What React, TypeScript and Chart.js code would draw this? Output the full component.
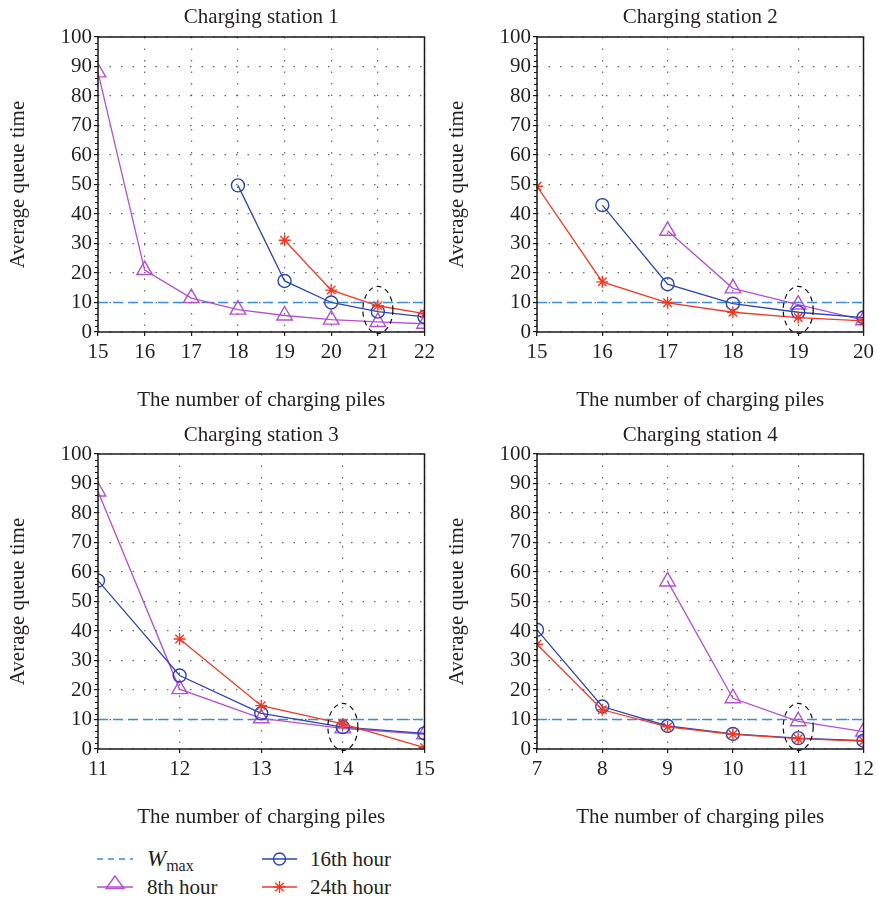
import React, { useEffect, useRef } from 'react';
import { Chart, registerables } from 'chart.js';

Chart.register(...registerables);

// ---------- data ----------
const W_MAX = 10;
const Y_MIN = 0;
const Y_MAX = 100;
const Y_STEP = 10;
const Y_MINOR_STEP = 2;
const HIGHLIGHT_CENTER = 7.5;

const station1Piles = [15, 16, 17, 18, 19, 20, 21, 22];
const station1Hour8 = [88, 21, 11.5, 7.6, 5.6, 4.2, 3.4, 2.8];
const station1Hour16 = [null, null, null, 49.7, 17.3, 10, 6.9, 5.1];
const station1Hour24 = [null, null, null, null, 31.1, 14.2, 8.9, 6.2];
const station1Chosen = 21;

const station2Piles = [15, 16, 17, 18, 19, 20];
const station2Hour8 = [null, null, 34.3, 14.8, 9.3, 4];
const station2Hour16 = [null, 43, 16.2, 9.6, 6.7, 4.9];
const station2Hour24 = [49.4, 17, 9.9, 6.7, 4.9, 3.8];
const station2Chosen = 19;

const station3Piles = [11, 12, 13, 14, 15];
const station3Hour8 = [87.3, 20.3, 10.4, 7, 5];
const station3Hour16 = [57.1, 24.9, 12.1, 7.4, 5.3];
const station3Hour24 = [null, 37.3, 14.7, 8.5, 0.5];
const station3Chosen = 14;

const station4Piles = [7, 8, 9, 10, 11, 12];
const station4Hour8 = [null, null, 56.8, 17.2, 9.4, 5.9];
const station4Hour16 = [40.4, 14.4, 7.8, 5.1, 3.7, 2.8];
const station4Hour24 = [35.5, 13.3, 7.5, 5, 3.5, 2.7];
const station4Chosen = 11;

const stationTitles = ['Charging station 1', 'Charging station 2', 'Charging station 3', 'Charging station 4'];
const xAxisTitle = 'The number of charging piles';
const yAxisTitle = 'Average queue time';

const labelWmax = 'W';
const labelWmaxSub = 'max';
const label8 = '8th hour';
const label16 = '16th hour';
const label24 = '24th hour';

// ---------- styles ----------
const FONT = "'Liberation Serif', 'Times New Roman', serif";
const TEXT = '#231f20';
const C_WMAX = '#3a8fd9';
const C_8 = '#b550cf';
const C_16 = '#2b46ad';
const C_24 = '#ef3a26';

function toPoints(xs: number[], ys: (number | null)[]) {
  return xs
    .map((x, i) => ({ x, y: ys[i] }))
    .filter((p) => p.y !== null && p.y !== undefined);
}

const frameAndMinorTicks = {
  id: 'frameAndMinorTicks',
  afterDraw(chart: any) {
    const { ctx, chartArea, scales } = chart;
    const { left, top, right, bottom } = chartArea;
    ctx.save();
    ctx.setLineDash([]);
    ctx.strokeStyle = '#1a1a1a';
    ctx.lineWidth = 1.5;
    ctx.strokeRect(left, top, right - left, bottom - top);
    ctx.lineWidth = 1;
    for (let v = Y_MIN; v <= Y_MAX; v += Y_MINOR_STEP) {
      if (v % Y_STEP === 0) continue;
      const py = Math.round(scales.y.getPixelForValue(v)) + 0.5;
      ctx.beginPath();
      ctx.moveTo(left - 3, py);
      ctx.lineTo(left, py);
      ctx.stroke();
    }
    ctx.restore();
  },
};

const highlight = {
  id: 'highlight',
  afterDatasetsDraw(chart: any, _args: any, opts: any) {
    const { ctx, scales } = chart;
    const cx = scales.x.getPixelForValue(opts.x);
    const cy = scales.y.getPixelForValue(opts.y);
    ctx.save();
    ctx.setLineDash([5, 4]);
    ctx.strokeStyle = '#111';
    ctx.lineWidth = 1.2;
    ctx.beginPath();
    ctx.ellipse(cx, cy, opts.rx, opts.ry, 0, 0, Math.PI * 2);
    ctx.stroke();
    ctx.restore();
  },
};

type StationProps = {
  left: number;
  top: number;
  width: number;
  height: number;
  title: string;
  piles: number[];
  h8: (number | null)[];
  h16: (number | null)[];
  h24: (number | null)[];
  chosen: number;
  padRight: number;
  titleBoxHeight: number;
  titlePadTop: number;
};

function buildConfig(p: StationProps): any {
  const xMin = p.piles[0];
  const xMax = p.piles[p.piles.length - 1];
  const tickFont = { family: FONT, size: 21 };
  const titleFont = { family: FONT, size: 21, weight: 'normal' as const };
  const gridCommon = {
    color: '#666',
    lineWidth: 1.2,
    tickColor: '#1a1a1a',
    tickWidth: 1.2,
    tickLength: 4,
    tickBorderDash: [],
    borderDash: [1.5, 10],
  };
  const lineDs = (label: string, data: any[], color: string, style: string, radius: number) => ({
    label,
    data,
    borderColor: color,
    backgroundColor: color,
    borderWidth: 1.3,
    pointStyle: style,
    pointRadius: radius,
    pointBorderWidth: 1.4,
    pointBorderColor: color,
    pointBackgroundColor: 'rgba(0,0,0,0)',
    tension: 0,
    fill: false,
  });
  return {
    type: 'line',
    data: {
      datasets: [
        lineDs(label24, toPoints(p.piles, p.h24), C_24, 'star', 6),
        lineDs(label16, toPoints(p.piles, p.h16), C_16, 'circle', 6.5),
        lineDs(label8, toPoints(p.piles, p.h8), C_8, 'triangle', 9),
        {
          label: labelWmax + labelWmaxSub,
          data: [
            { x: xMin, y: W_MAX },
            { x: xMax, y: W_MAX },
          ],
          borderColor: C_WMAX,
          borderWidth: 1.4,
          borderDash: [10, 5],
          pointRadius: 0,
          fill: false,
        },
      ],
    },
    options: {
      responsive: false,
      animation: false,
      devicePixelRatio: 1,
      layout: { padding: { left: 0, right: p.padRight, top: 0, bottom: 0 } },
      plugins: {
        legend: { display: false },
        tooltip: { enabled: false },
        title: { display: false },
        highlight: { x: p.chosen, y: HIGHLIGHT_CENTER, rx: 15, ry: 23.5 },
      },
      scales: {
        x: {
          type: 'linear',
          position: 'bottom',
          min: xMin,
          max: xMax,
          afterFit: (axis: any) => {
            axis.height = 88;
          },
          ticks: {
            stepSize: 1,
            autoSkip: false,
            maxRotation: 0,
            padding: 4,
            color: TEXT,
            font: tickFont,
          },
          grid: { ...gridCommon },
          border: { display: false, dash: [1.5, 10] },
          title: {
            display: true,
            text: xAxisTitle,
            color: TEXT,
            font: titleFont,
            padding: { top: 0, bottom: 7 },
          },
        },
        titleAxis: {
          type: 'linear',
          position: 'top',
          min: xMin,
          max: xMax,
          afterFit: (axis: any) => {
            axis.height = p.titleBoxHeight;
          },
          ticks: { display: false },
          grid: { display: false, drawTicks: false },
          border: { display: false },
          title: {
            display: true,
            text: p.title,
            color: TEXT,
            font: titleFont,
            padding: { top: p.titlePadTop, bottom: 0 },
          },
        },
        y: {
          type: 'linear',
          min: Y_MIN,
          max: Y_MAX,
          afterFit: (axis: any) => {
            axis.width = 98;
          },
          ticks: {
            stepSize: Y_STEP,
            padding: 2,
            color: TEXT,
            font: tickFont,
          },
          grid: { ...gridCommon },
          border: { display: false, dash: [1.5, 10] },
          title: {
            display: true,
            text: yAxisTitle,
            color: TEXT,
            font: titleFont,
            padding: { top: 6, bottom: 0 },
          },
        },
      },
    },
    plugins: [highlight, frameAndMinorTicks],
  };
}

function StationChart(p: StationProps) {
  const ref = useRef<HTMLCanvasElement>(null);
  useEffect(() => {
    if (!ref.current) return;
    const chart = new Chart(ref.current, buildConfig(p));
    return () => chart.destroy();
  }, []);
  return (
    <canvas
      ref={ref}
      width={p.width}
      height={p.height}
      style={{ position: 'absolute', left: p.left, top: p.top, width: p.width, height: p.height }}
    />
  );
}

function Legend() {
  const textStyle: any = { fontFamily: FONT, fontSize: 21, fill: TEXT };
  const r1 = 21;
  const r2 = 49;
  const starArms = [0, 45, 90, 135].map((a) => {
    const rad = (a * Math.PI) / 180;
    return { dx: Math.cos(rad) * 6, dy: Math.sin(rad) * 6 };
  });
  return (
    <svg width={878} height={60} style={{ position: 'absolute', left: 0, top: 838 }}>
      <line x1={97} y1={r1} x2={133} y2={r1} stroke={C_WMAX} strokeWidth={1.5} strokeDasharray="6 5" />
      <text x={147} y={r1 + 7} style={textStyle}>
        <tspan fontStyle="italic" fontSize={23}>{labelWmax}</tspan>
        <tspan fontSize={16} dy={5}>{labelWmaxSub}</tspan>
      </text>
      <line x1={262} y1={r1} x2={297} y2={r1} stroke={C_16} strokeWidth={1.4} />
      <circle cx={279.5} cy={r1} r={6} fill="none" stroke={C_16} strokeWidth={1.4} />
      <text x={310} y={r1 + 7} style={textStyle}>{label16}</text>
      <line x1={97} y1={r2} x2={133} y2={r2} stroke={C_8} strokeWidth={1.4} />
      <polygon
        points={`115,${r2 - 11} 106,${r2 + 1.5} 124,${r2 + 1.5}`}
        fill="none"
        stroke={C_8}
        strokeWidth={1.4}
      />
      <text x={147} y={r2 + 7} style={textStyle}>{label8}</text>
      <line x1={262} y1={r2} x2={297} y2={r2} stroke={C_24} strokeWidth={1.4} />
      {starArms.map((a, i) => (
        <line
          key={i}
          x1={279.5 - a.dx}
          y1={r2 - a.dy}
          x2={279.5 + a.dx}
          y2={r2 + a.dy}
          stroke={C_24}
          strokeWidth={1.4}
        />
      ))}
      <text x={310} y={r2 + 7} style={textStyle}>{label24}</text>
    </svg>
  );
}

export default function App() {
  return (
    <div style={{ position: 'absolute', left: 0, top: 0, width: 878, height: 898, background: '#fff' }}>
      <StationChart
        left={0}
        top={0}
        width={439}
        height={420}
        title={stationTitles[0]}
        piles={station1Piles}
        h8={station1Hour8}
        h16={station1Hour16}
        h24={station1Hour24}
        chosen={station1Chosen}
        padRight={13}
        titleBoxHeight={37}
        titlePadTop={4.4}
      />
      <StationChart
        left={439}
        top={0}
        width={439}
        height={420}
        title={stationTitles[1]}
        piles={station2Piles}
        h8={station2Hour8}
        h16={station2Hour16}
        h24={station2Hour24}
        chosen={station2Chosen}
        padRight={14}
        titleBoxHeight={37}
        titlePadTop={4.4}
      />
      <StationChart
        left={0}
        top={420}
        width={439}
        height={417}
        title={stationTitles[2]}
        piles={station3Piles}
        h8={station3Hour8}
        h16={station3Hour16}
        h24={station3Hour24}
        chosen={station3Chosen}
        padRight={13}
        titleBoxHeight={34}
        titlePadTop={2.8}
      />
      <StationChart
        left={439}
        top={420}
        width={439}
        height={417}
        title={stationTitles[3]}
        piles={station4Piles}
        h8={station4Hour8}
        h16={station4Hour16}
        h24={station4Hour24}
        chosen={station4Chosen}
        padRight={14}
        titleBoxHeight={34}
        titlePadTop={2.8}
      />
      <Legend />
    </div>
  );
}
